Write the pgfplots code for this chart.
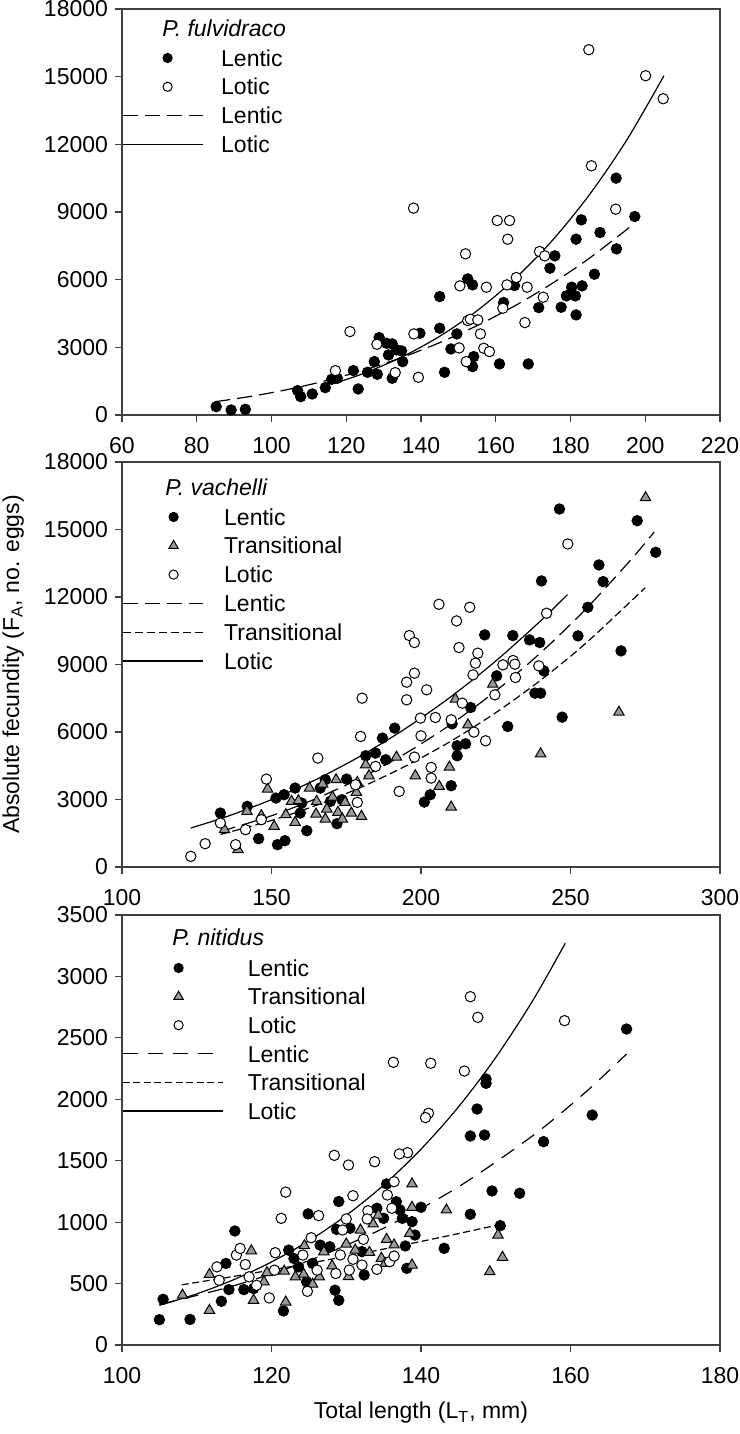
\documentclass[border=0pt]{standalone}
\usepackage{fontspec}
\setmainfont{Liberation Sans}
\usepackage{pgfplots}
\pgfplotsset{compat=1.18}
\newcommand\fs{\fontsize{11.5}{13.8}\selectfont}
\pgfplotsset{
 panel/.style={
   scale only axis, width=299pt, anchor=south west,
   axis line style={black!75, line width=0.6pt},
   every tick/.style={black!75, line width=0.6pt},
   tick align=outside, major tick length=3.5pt,
   xtick pos=left, ytick pos=left,
   /pgf/number format/assume math mode=true,
   /pgf/number format/set thousands separator={},
   scaled ticks=false,
   tick label style={font=\fs},
   xticklabel style={yshift=-4pt},
   label style={font=\fs},
   legend cell align=left,
   legend style={draw=none, fill=none, inner sep=0pt, outer sep=0pt,
     at={(rel axis cs:0,1)}, anchor=north west, font=\fs,
     nodes={inner sep=0pt, outer sep=0pt, text height=8.5pt, text depth=2.5pt, anchor=base west}},
 },
 lenM/.style={only marks, mark=*, mark size=2.6pt, mark options={fill=black, draw=black, line width=0.5pt}},
 traM/.style={only marks, mark=triangle*, mark size=3pt, mark options={fill=black!40, draw=black, line width=0.5pt}},
 lotM/.style={only marks, mark=*, mark size=2.6pt, mark options={fill=white, draw=black, line width=0.5pt}},
 legM/.style n args={3}{legend image code/.code={\path (0pt,4.1pt) (#1,4.1pt); \draw[##1, mark size=#3] plot coordinates {(#2,4.1pt)};}},
 legL/.style={legend image code/.code={\draw[##1] (0pt,4.1pt) -- (#1,4.1pt);}},
 lenC/.style={black, line width=0.6pt, smooth, no markers, dash pattern=on 7.5pt off 3.5pt},
 traC/.style={black, line width=0.6pt, smooth, no markers, dash pattern=on 4pt off 2pt},
 lotC/.style={black, line width=0.6pt, smooth, no markers},
}
\begin{document}
\begin{tikzpicture}
\path[use as bounding box] (-61pt,-44.5pt) rectangle (308.5pt,672.5pt);
% ---------------- Panel 1 ----------------
\begin{axis}[panel, at={(0pt,465pt)}, height=203pt,
  xmin=60, xmax=220, xtick={60,80,...,220},
  ymin=0, ymax=18000, ytick={0,3000,...,18000},
  legend style={yshift=-20.1pt, row sep=3.4pt, column sep=9pt}]
\addplot[lenM, legM={40pt}{22.5pt}{2.3pt}] coordinates {
(85.2,370) (89.2,222) (93.0,251) (107.0,1080) (107.8,813) (110.9,932) (114.4,1213)
(116.1,1583) (117.6,1627) (121.9,1967) (123.2,1154) (125.7,1893) (127.5,2366) (128.3,1804)
(128.8,3431) (130.8,3180) (132.3,3150) (131.3,2662) (132.3,1627) (133.5,2884) (134.8,2840)
(135.1,2366) (139.7,3624) (145.0,5250) (145.0,3845) (146.3,1893) (148.0,2928) (149.6,3594)
(152.5,6034) (153.8,5768) (154.1,2588) (153.8,2145) (161.0,2263) (168.7,2263) (162.1,4984)
(165.0,5738) (171.5,4762) (174.5,6508) (175.8,7055) (177.5,4777) (178.9,5280) (180.3,5665)
(181.3,5280) (181.5,4437) (183.1,5724) (181.5,7794) (182.9,8652) (187.9,8090) (186.4,6241)
(192.2,10501) (192.3,7365) (197.2,8800)};
\addlegendentry{Lentic}
\addplot[lotM, legM={40pt}{22.5pt}{2.3pt}] coordinates {
(138.0,9170) (121.0,3698) (117.1,1967) (128.2,3135) (133.1,1878) (138.1,3594) (139.3,1671)
(151.9,7144) (150.4,5724) (150.2,2973) (152.1,2366) (152.5,4186) (153.2,4245) (155.2,4215)
(155.9,3594) (156.8,2958) (158.3,2810) (157.5,5665) (160.4,8622) (163.7,8622) (163.2,7794)
(161.9,4733) (163.0,5768) (165.5,6094) (168.4,5665) (167.8,4097) (171.7,7247) (173.1,7055)
(172.7,5221) (184.9,16195) (185.6,11048) (192.1,9125) (200.1,15041) (204.8,14021)};
\addlegendentry{Lotic}
\addplot[lenC, legL=40pt] coordinates {
(85,590) (95,839) (105,1153) (115,1538) (125,2004) (135,2557) (145,3208) (155,3962)
(165,4830) (175,5823) (185,6944) (197,8474)};
\addlegendentry{Lentic}
\addplot[lotC, legL=40pt] coordinates {
(117,1410) (125,1864) (135,2579) (145,3489) (155,4622) (165,6017) (175,7713) (185,9752)
(195,12175) (205,15038)};
\addlegendentry{Lotic}
\node[anchor=west, inner sep=0pt, font=\fs\itshape] at (axis description cs:0.0669,0.953) {P. fulvidraco};
\end{axis}
% ---------------- Panel 2 ----------------
\begin{axis}[panel, at={(0pt,239pt)}, height=202.5pt,
  xmin=100, xmax=300, xtick={100,150,...,300},
  ymin=0, ymax=18000, ytick={0,3000,...,18000},
  ylabel={Absolute fecundity (F\textsubscript{A}, no. eggs)},
  ylabel style={at={(axis description cs:-0.182,0.5)}, anchor=center},
  legend style={yshift=-23.1pt, row sep=3.4pt, column sep=10.5pt}]
\addplot[lenM, legM={40pt}{25.5pt}{2.3pt}] coordinates {
(132.9,2398) (141.9,2694) (145.7,1258) (152.0,992) (154.5,1169) (151.5,3064) (154.2,3212)
(157.9,3508) (160.1,2842) (159.6,2398) (161.8,1613) (166.3,3508) (168.0,3878) (169.7,2916)
(171.9,1924) (173.6,2990) (175.1,3907) (181.5,4943) (184.8,5062) (187.1,5728) (191.2,6172)
(188.2,4766) (201.1,2886) (203.1,3212) (246.3,15910) (272.3,15392) (278.5,13986) (259.5,13424)
(260.9,12684) (240.3,12713) (255.8,11544) (252.5,10271) (266.9,9605) (221.3,10316) (230.7,10286)
(236.3,10094) (239.7,9975) (241.1,8717) (225.3,8495) (238.1,7726) (240.0,7726) (216.6,7089)
(210.4,6364) (247.2,6660) (229.0,6246) (212.1,5387) (214.9,5476) (212.1,4943) (210.1,3611)};
\addlegendentry{Lentic}
\addplot[traM, legM={40pt}{25.5pt}{2.7pt}] coordinates {
(134.3,1658) (138.8,770) (141.8,2472) (146.6,2279) (148.7,3463) (150.9,1806) (154.8,2324)
(156.7,2916) (157.9,1983) (159.0,2945) (162.7,3508) (164.9,2353) (165.1,2916) (167.1,3685)
(168.0,2131) (168.5,2575) (170.4,3108) (171.6,3878) (172.2,2427) (173.7,2131) (174.6,2871)
(176.7,2398) (180.1,2250) (178.4,3315) (178.7,3759) (181.5,4544) (182.6,4055) (191.8,4884)
(198.1,4055) (206.1,3582) (275.1,16413) (224.0,8125) (211.5,7459) (215.7,6320) (266.2,6882)
(240.0,5032) (209.5,4440) (210.1,2664)};
\addlegendentry{Transitional}
\addplot[lotM, legM={40pt}{25.5pt}{2.3pt}] coordinates {
(123.0,474) (127.8,1036) (132.9,1954) (138.0,992) (141.3,1658) (146.6,2102) (148.3,3907)
(165.5,4840) (178.7,2871) (178.1,3656) (179.8,5802) (180.3,7504) (184.8,4470) (192.7,3360)
(195.2,7430) (195.2,8214) (197.8,8614) (196.1,10286) (197.8,9975) (201.9,7874) (199.8,6616)
(200.0,5831) (197.8,4884) (203.4,4425) (203.4,3952) (204.8,6645) (206.0,11677) (249.1,14356)
(216.3,11544) (211.9,10937) (212.7,9753) (219.0,9502) (218.2,9058) (217.4,8540) (242.0,11278)
(227.4,8984) (230.8,9176) (231.4,9013) (231.6,8421) (239.4,8939) (224.7,7652) (213.8,7282)
(210.1,6542) (217.7,5994) (221.6,5609)};
\addlegendentry{Lotic}
\addplot[lenC, legL=40pt] coordinates {
(133,1580) (150,2278) (165,3045) (180,3967) (195,5062) (210,6341) (225,7821) (240,9520)
(255,11449) (270,13624) (278,14890)};
\addlegendentry{Lentic}
\addplot[traC, legL=40pt] coordinates {
(133,1450) (150,2069) (165,2742) (180,3547) (195,4495) (210,5593) (225,6859) (240,8301)
(255,9931) (275,12413)};
\addlegendentry{Transitional}
\addplot[lotC, legL=40pt] coordinates {
(123,1732) (135,2239) (150,2994) (165,3893) (180,4949) (195,6170) (210,7568) (225,9154)
(240,10939) (249,12107)};
\addlegendentry{Lotic}
\node[anchor=west, inner sep=0pt, font=\fs\itshape] at (axis description cs:0.0719,0.938) {P. vachelli};
\end{axis}
% ---------------- Panel 3 ----------------
\begin{axis}[panel, at={(0pt,0pt)}, height=215pt,
  xmin=100, xmax=180, xtick={100,120,...,180},
  ymin=0, ymax=3500, ytick={0,500,...,3500},
  xlabel={Total length (L\textsubscript{T}, mm)},
  xlabel style={at={(axis description cs:0.5,-0.158)}, anchor=center},
  legend style={yshift=-22.1pt, row sep=3.3pt, column sep=12.3pt}]
\addplot[lenM, legM={50pt}{28pt}{2.3pt}] coordinates {
(105.0,206) (109.1,208) (105.5,372) (113.3,356) (114.3,451) (116.3,451) (117.6,459)
(113.9,664) (115.1,928) (121.6,277) (122.3,772) (123.0,704) (123.6,636) (124.7,514)
(125.5,664) (124.9,1067) (126.5,813) (127.8,800) (128.5,446) (129.0,364) (129.0,1168)
(128.7,941) (148.7,2165) (148.7,2130) (147.5,1921) (146.6,1701) (148.5,1709) (156.4,1655)
(149.5,1254) (153.2,1235) (146.6,1064) (150.6,971) (143.1,787) (135.4,1311) (134.1,1113)
(136.7,1166) (137.2,1099) (137.5,1031) (138.8,1004) (140.0,1121) (139.2,895) (137.9,806)
(138.1,624) (135.0,1031) (130.5,950) (132.1,760) (132.4,570) (167.5,2572) (162.9,1872)};
\addlegendentry{Lentic}
\addplot[traM, legM={50pt}{28pt}{2.7pt}] coordinates {
(108.1,405) (111.7,574) (111.7,282) (117.3,767) (117.6,364) (119.0,514) (119.4,590)
(121.7,601) (121.9,350) (123.2,555) (124.3,576) (124.4,808) (125.5,495) (126.4,555)
(127.0,759) (128.1,644) (138.8,1311) (138.8,1121) (143.4,1099) (138.5,909) (150.3,895)
(150.9,714) (149.2,597) (138.8,651) (131.9,936) (133.6,985) (134.3,1058) (130.0,822)
(131.2,773) (133.1,754) (135.4,860) (136.4,814) (134.7,706) (135.2,665) (130.3,556)};
\addlegendentry{Transitional}
\addplot[lotM, legM={50pt}{28pt}{2.3pt}] coordinates {
(112.7,636) (113.0,527) (115.3,732) (115.8,786) (116.5,655) (117.0,555) (118.0,486)
(119.7,383) (120.5,751) (121.3,1031) (121.9,1244) (120.4,609) (124.2,732) (124.8,437)
(125.3,873) (126.3,1053) (126.1,609) (128.4,1544) (128.6,582) (147.6,2667) (146.6,2835)
(159.2,2640) (136.3,2301) (141.3,2293) (145.8,2230) (141.0,1886) (140.6,1851) (138.2,1565)
(137.1,1555) (133.8,1492) (130.3,1465) (130.9,1215) (136.4,1329) (135.5,1221) (136.1,1113)
(132.9,1093) (132.8,1026) (130.0,1026) (129.5,936) (132.3,860) (129.2,733) (130.9,698)
(132.1,651) (134.1,616) (135.8,678) (136.4,724) (130.4,610)};
\addlegendentry{Lotic}
\addplot[lenC, dash pattern=on 7.5pt off 5pt, legL=50pt] coordinates {
(105,330) (115,483) (125,687) (135,951) (145,1287) (155,1706) (162,2057) (167.5,2369)};
\addlegendentry{Lentic}
\addplot[traC, dash pattern=on 3.5pt off 1.8pt, legL=50pt] coordinates {
(108,490) (115,559) (122,632) (129,710) (136,793) (143,881) (150,973)};
\addlegendentry{Transitional}
\addplot[lotC, legL=50pt] coordinates {
(105,323) (110,416) (115,533) (120,676) (125,848) (130,1055) (135,1301) (140,1594)
(145,1937) (150,2340) (155,2808) (159.3,3270)};
\addlegendentry{Lotic}
\node[anchor=west, inner sep=0pt, font=\fs\itshape] at (axis description cs:0.0836,0.949) {P. nitidus};
\end{axis}
\end{tikzpicture}
\end{document}
